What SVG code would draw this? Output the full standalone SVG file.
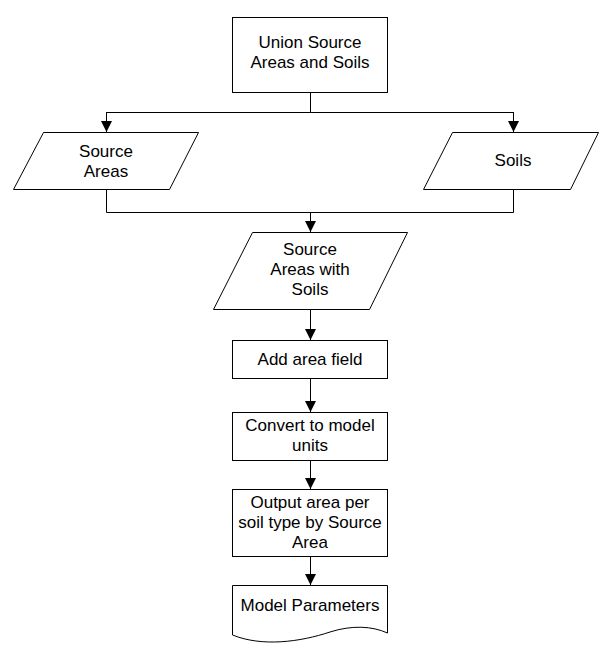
<svg xmlns="http://www.w3.org/2000/svg" width="605" height="646" viewBox="0 0 605 646">
  <defs>
    <marker id="arrow" markerUnits="userSpaceOnUse" markerWidth="12" markerHeight="12" refX="11" refY="5.5" orient="auto">
      <path d="M0,0 L11,5.5 L0,11 Z" fill="#000"/>
    </marker>
    <style>
      .shape { fill: #fff; stroke: #000; stroke-width: 1; }
      .conn { fill: none; stroke: #000; stroke-width: 1; }
      .arr { marker-end: url(#arrow); }
      text { font-family: "Liberation Sans", Arial, sans-serif; font-size: 17px; fill: #000; text-anchor: middle; }
    </style>
  </defs>
  <rect width="605" height="646" fill="#fff"/>

  <g id="connectors">
    <path class="conn" d="M310.5,92 V112.5 H106.5 V121"/>
    <path class="conn" d="M310.5,112.5 H513.5 V121"/>
    <path class="conn arr" d="M106.5,112 V132"/>
    <path class="conn arr" d="M513.5,112 V132"/>
    <path class="conn" d="M106.5,189 V212.5 H513.5 V189"/>
    <path class="conn arr" d="M310.5,212 V232"/>
    <path class="conn arr" d="M310.5,309 V340"/>
    <path class="conn arr" d="M310.5,378 V412"/>
    <path class="conn arr" d="M310.5,460 V489"/>
    <path class="conn arr" d="M310.5,556 V585"/>
  </g>

  <g id="union">
    <rect class="shape" x="232.5" y="17.5" width="155" height="75"/>
    <text x="310" y="48">Union Source</text>
    <text x="310" y="68">Areas and Soils</text>
  </g>

  <g id="source-areas">
    <polygon class="shape" points="43.5,132.5 198.5,132.5 169.5,189.5 13.5,189.5"/>
    <text x="106" y="157">Source</text>
    <text x="106" y="177">Areas</text>
  </g>

  <g id="soils">
    <polygon class="shape" points="452.5,132.5 598.5,132.5 570.5,189.5 423.5,189.5"/>
    <text x="513" y="166">Soils</text>
  </g>

  <g id="source-areas-with-soils">
    <polygon class="shape" points="252.5,232.5 407.5,232.5 369.5,309.5 213.5,309.5"/>
    <text x="310" y="255">Source</text>
    <text x="310" y="275">Areas with</text>
    <text x="310" y="295">Soils</text>
  </g>

  <g id="add-area-field">
    <rect class="shape" x="232.5" y="340.5" width="155" height="38"/>
    <text x="310" y="365">Add area field</text>
  </g>

  <g id="convert-units">
    <rect class="shape" x="232.5" y="412.5" width="155" height="48"/>
    <text x="310" y="431">Convert to model</text>
    <text x="310" y="451">units</text>
  </g>

  <g id="output-area">
    <rect class="shape" x="232.5" y="489.5" width="155" height="67"/>
    <text x="310" y="508">Output area per</text>
    <text x="310" y="528">soil type by Source</text>
    <text x="310" y="548">Area</text>
  </g>

  <g id="model-parameters">
    <!-- document shape: straight top and sides, wavy bottom edge -->
    <path class="shape" d="M232.5,585.5 H387.5 V633 C372,626 352,625 330,632 C300,642 262,647 232.5,635 Z"/>
    <text x="310" y="611">Model Parameters</text>
  </g>
</svg>
